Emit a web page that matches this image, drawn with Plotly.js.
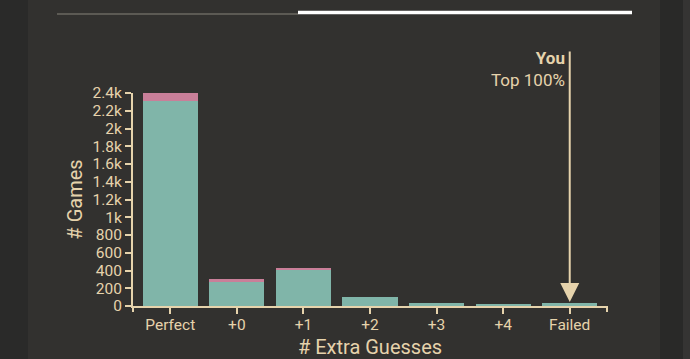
<!DOCTYPE html>
<html><head><meta charset="utf-8">
<script src="https://cdn.plot.ly/plotly-3.0.1.min.js"></script>
<style>html,body{margin:0;padding:0;background:#32312f;}#chart{width:690px;height:359px;}</style>
</head><body><div id="chart"></div>
<script>
const categories = ["Perfect", "+0", "+1", "+2", "+3", "+4", "Failed"];
const solvedValues = [2310, 275, 410, 105, 35, 20, 30];
const hintValues = [90, 25, 20, 0, 0, 0, 0];
const yTicks = [0,200,400,600,800,1000,1200,1400,1600,1800,2000,2200,2400];
const youCategory = "Failed";
const youLabel = "<b>You</b><br>Top 100%";

const tan = "#e6d3ac";
const traces = [
  {type:"bar", x:categories, y:solvedValues, marker:{color:"#80b5a9"}, hoverinfo:"skip"},
  {type:"bar", x:categories, y:hintValues, marker:{color:"#c97f99"}, hoverinfo:"skip"}
];
const H = 213, W = 474;
const px = v => v / W, py = v => v / H;
const layout = {
  width:690, height:359,
  margin:{l:133, r:83, t:93, b:53},
  paper_bgcolor:"#32312f", plot_bgcolor:"#32312f",
  barmode:"stack", bargap:0.17, showlegend:false,
  font:{family:"Roboto, sans-serif", color:tan, size:15},
  xaxis:{type:"category", range:[-0.56, 6.56], showline:true, linecolor:tan, linewidth:2,
    ticks:"outside", ticklen:6, tickcolor:tan, tickwidth:2, showgrid:false, zeroline:false, ticklabelstandoff:-3,
    tickfont:{size:15.5, color:tan}, title:{text:"# Extra Guesses", font:{size:20, color:tan}, standoff:8}},
  yaxis:{range:[0,2400], tickvals:yTicks, tickformat:"~s", showline:true, linecolor:tan, linewidth:2,
    ticks:"outside", ticklen:6, tickcolor:tan, tickwidth:2, showgrid:false, zeroline:false,
    tickfont:{size:15.5, color:tan}, title:{text:"# Games", font:{size:20, color:tan}, standoff:5}},
  shapes:[
    {type:"rect", xref:"paper", yref:"paper", x0:px(-133), x1:px(-105), y0:py(-60), y1:py(310), fillcolor:"#2a2a29", line:{width:0}, layer:"below"},
    {type:"rect", xref:"paper", yref:"paper", x0:px(660-133), x1:px(683-133), y0:py(-60), y1:py(310), fillcolor:"#292928", line:{width:0}, layer:"below"},
    {type:"rect", xref:"paper", yref:"paper", x0:px(683-133), x1:px(700-133), y0:py(-60), y1:py(310), fillcolor:"#353433", line:{width:0}, layer:"below"},
    {type:"line", xref:"paper", yref:"paper", x0:px(57-133), x1:px(298-133), y0:py(306-14), y1:py(306-14), line:{color:"#6b6862", width:1.5}},
    {type:"line", xref:"paper", yref:"paper", x0:px(298-133), x1:px(632-133), y0:py(306-12.5), y1:py(306-12.5), line:{color:"#ffffff", width:3.5}},
    {type:"line", xref:"paper", yref:"paper", x0:0, x1:0, y0:0, y1:py(-6), line:{color:tan, width:2}},
    {type:"line", xref:"paper", yref:"paper", x0:1, x1:1, y0:0, y1:py(-6), line:{color:tan, width:2}}
  ],
  annotations:[
    {x:youCategory, y:45, xref:"x", yref:"y", ax:0, ay:-252, showarrow:true, arrowhead:2, arrowsize:1.9, arrowwidth:2, arrowcolor:tan, text:""},
    {x:youCategory, y:py(306-46), xref:"x", yref:"paper", xanchor:"right", yanchor:"top", xshift:-3, showarrow:false, align:"right",
     text:youLabel, font:{size:17, color:tan}}
  ]
};
Plotly.newPlot("chart", traces, layout, {displayModeBar:false, staticPlot:true});
</script></body></html>
